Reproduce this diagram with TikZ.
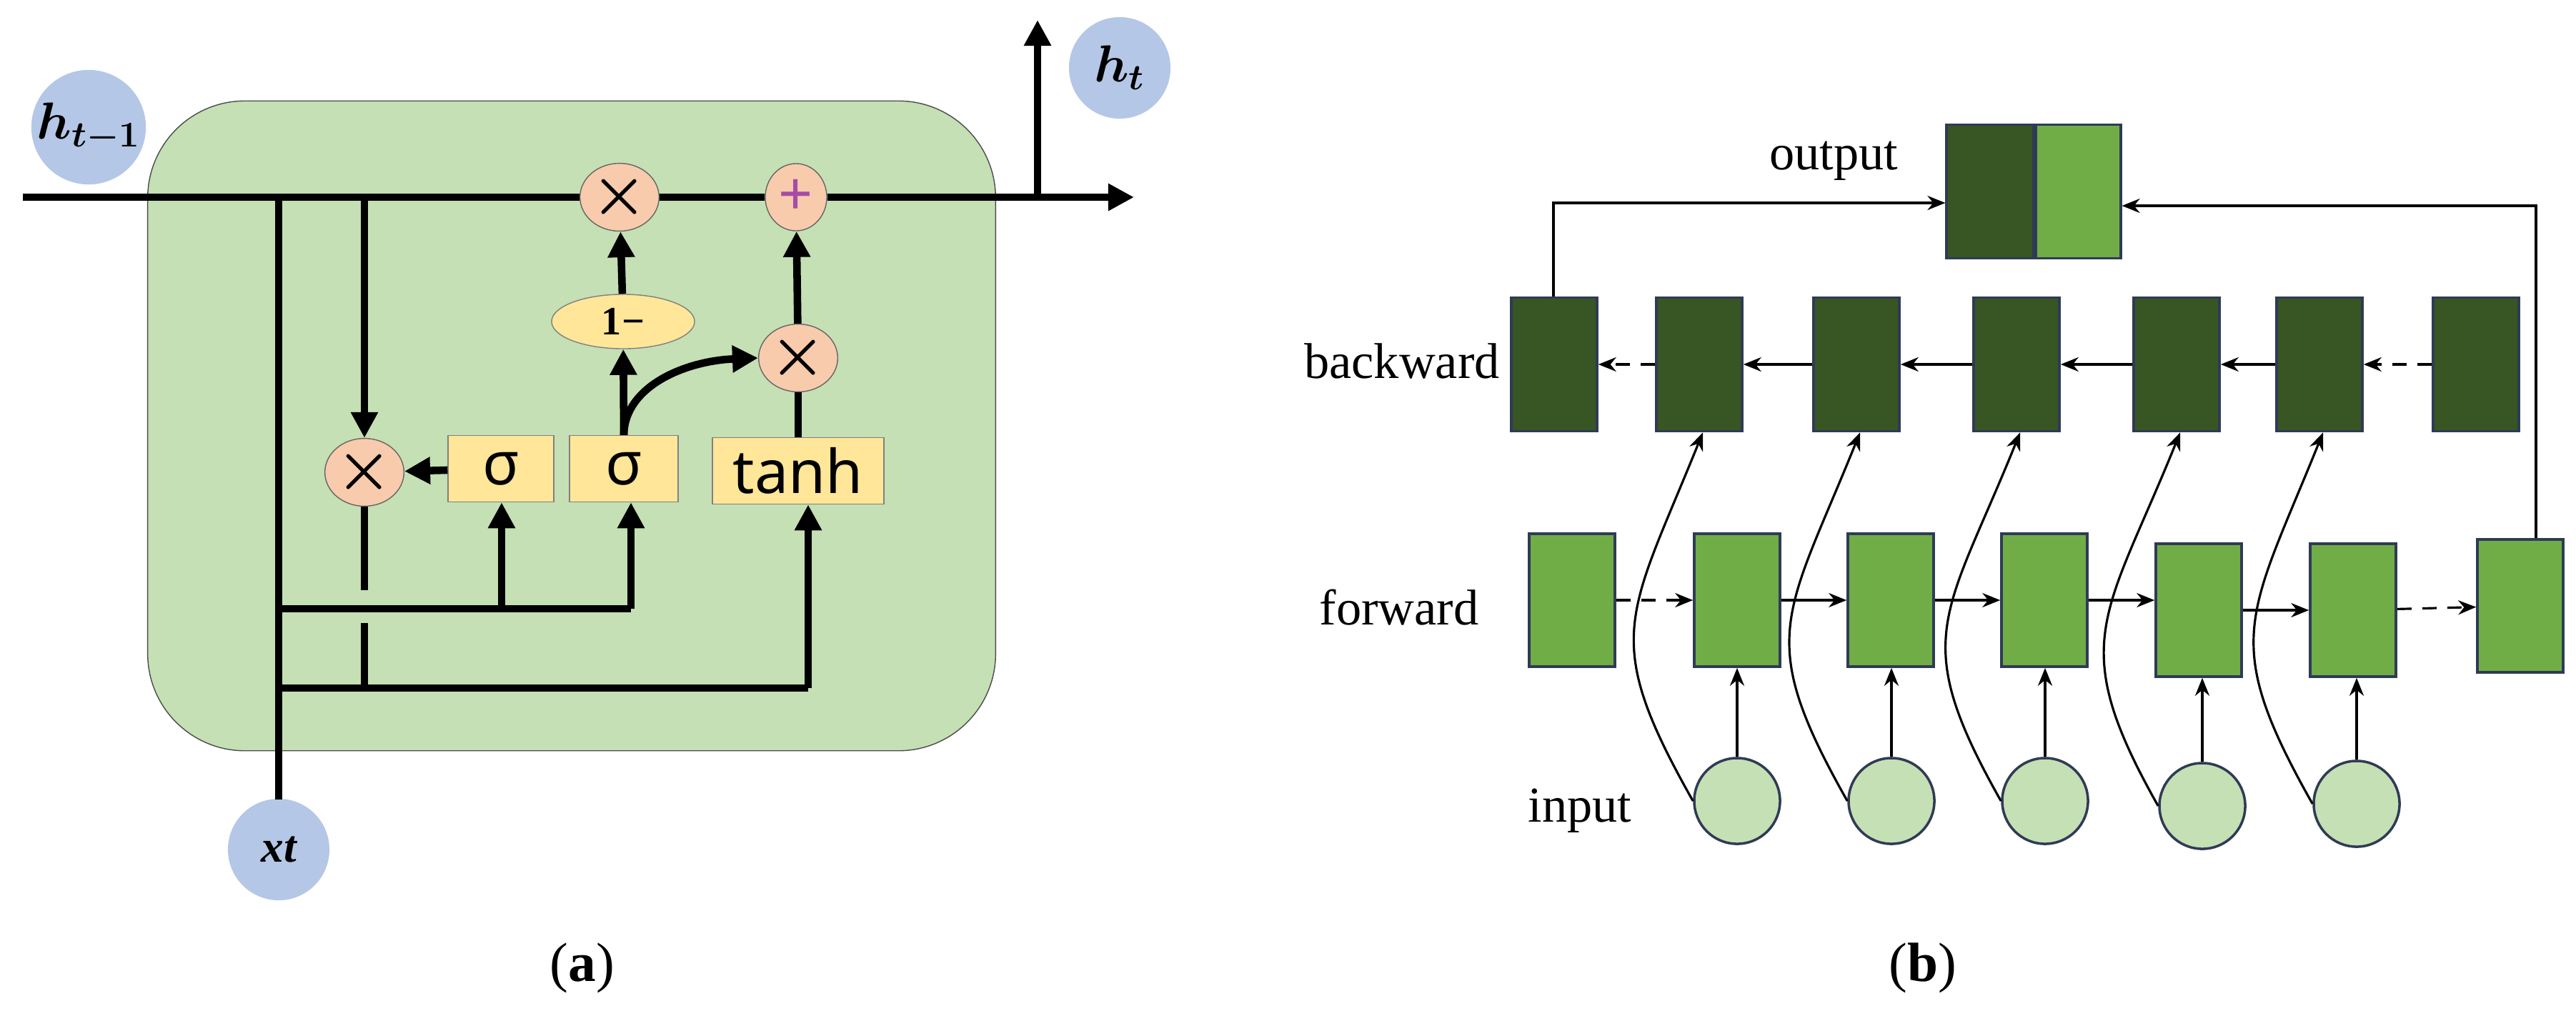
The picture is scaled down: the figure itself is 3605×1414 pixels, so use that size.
\documentclass[tikz,border=0pt]{standalone}
\usepackage{amsmath,amssymb}
\usepackage{bm}
\usepackage{fontspec}
\setmainfont{Liberation Serif}
\newfontfamily\sansf{Noto Sans}
\usetikzlibrary{arrows.meta,shapes.geometric}
\definecolor{cellg}{HTML}{C5E0B4}
\definecolor{dkg}{HTML}{375623}
\definecolor{ltg}{HTML}{70AD47}
\definecolor{bluec}{HTML}{B4C7E7}
\definecolor{salm}{HTML}{F8CBAD}
\definecolor{yel}{HTML}{FFE699}
\definecolor{navy}{HTML}{2F3B55}
\begin{document}
\begin{tikzpicture}[x=0.01cm,y=-0.01cm,
  thk/.style={line width=3pt},
  tip/.style={-{Triangle[length=0.36cm,width=0.36cm]}},
  vc/.style={circle,fill=bluec,minimum size=1.42cm,inner sep=0},
  op/.style={ellipse,draw=black!60,fill=salm,minimum width=0.86cm,minimum height=0.94cm,inner sep=0,font=\sansf\bfseries\fontsize{24}{24}\selectfont},
  gate/.style={draw=black!50,fill=yel,minimum height=0.93cm,inner sep=0,font=\sansf\fontsize{24}{26}\selectfont},
  bw/.style={draw=navy,line width=1pt,fill=dkg,minimum width=1.2cm,minimum height=1.87cm},
  fw/.style={draw=navy,line width=1pt,fill=ltg,minimum width=1.2cm,minimum height=1.86cm},
  inp/.style={circle,draw=navy,line width=1pt,fill=cellg,minimum size=1.2cm},
  lab/.style={font=\fontsize{20}{24}\selectfont},
  ar/.style={line width=0.9pt,-{Stealth[length=0.25cm,width=0.2cm]}},
  da/.style={ar,dash pattern=on 0.2cm off 0.15cm}]
\useasboundingbox (0,0) rectangle (3605,1414);
% ---------- (a) ----------
\node[draw=black!70,fill=cellg,rounded corners=1.36cm,minimum width=11.86cm,minimum height=9.09cm] (cell) at (800,596) {};
\node[vc] (hprev) at (124,178) {\fontsize{20}{20}\selectfont$\bm{h_{t-1}}$};
\node[vc] (hnext) at (1567,95) {\fontsize{20}{20}\selectfont$\bm{h_t}$};
\node[vc] (xt) at (390,1189) {\fontsize{18}{18}\selectfont\itshape\bfseries xt};
\coordinate (L) at (32,276);
\coordinate (R) at (1587,276);
\coordinate (Up) at (1452,276);
\coordinate (UpT) at (1452,28);
\node[op] (mf) at (510,661) {$\bm\times$};
\node[op] (mt) at (867,276) {$\bm\times$};
\node[op,text=violet!70] (pl) at (1114,276) {+};
\node[op] (mm) at (1117,501) {$\bm\times$};
\node[ellipse,draw=black!50,fill=yel,minimum width=2cm,minimum height=0.76cm,inner sep=0,font=\fontsize{16}{16}\selectfont\bfseries] (om) at (872,450) {1−};
\node[gate,minimum width=1.48cm] (s1) at (701,656) {σ};
\node[gate,minimum width=1.52cm] (s2) at (873,656) {σ};
\node[gate,minimum width=2.4cm] (th) at (1117,659) {tanh};
\draw[thk,tip] (L) -- (mt) -- (pl) -- (R);
\draw[thk,tip] (Up) -- (UpT);
\coordinate (xa) at (390,276);
\coordinate (xb) at (390,1119);
\draw[thk] (xa) -- (xb);
\draw[thk] (xb) -- (xt);
\coordinate (fa) at (510,276);
\draw[thk,tip] (fa) -- (mf);
\coordinate (fb) at (510,826); \coordinate (fc) at (510,872); \coordinate (fd) at (510,963);
\draw[thk] (mf) -- (fb);
\draw[thk] (fc) -- (fd);
\coordinate (h1a) at (390,852); \coordinate (h1b) at (883,852); \coordinate (h1m) at (702,852);
\coordinate (h2a) at (390,963); \coordinate (h2b) at (1131,963);
\draw[thk] (h1a) -- (h1b);
\draw[thk] (h2a) -- (h2b);
\draw[thk,tip] (h1m) -- (h1m|-s1.south);
\draw[thk,tip] (h1b) -- (h1b|-s2.south);
\draw[thk,tip] (h2b) -- (h2b|-th.south);
\draw[thk,tip] (s1) -- (mf);
\draw[thk,tip] (s2.north) -- (om);
\draw[thk,tip] (om) -- (mt);
\draw[thk,tip] (s2.north) .. controls (874,540) and (960,505) .. (mm.west);
\draw[thk] (th) -- (mm);
\draw[thk,tip] (mm) -- (pl);
\node[font=\fontsize{22}{26}\selectfont] (la) at (815,1355) {(\textbf{a})};
% ---------- (b) ----------
\node[draw=navy,line width=1pt,fill=dkg,minimum width=1.21cm,minimum height=1.87cm,anchor=east] (outL) at (2847,268) {};
\node[draw=navy,line width=1pt,fill=ltg,minimum width=1.19cm,minimum height=1.87cm,anchor=west] (outR) at (2847,268) {};
\node[lab] (tout) at (2566,225) {output};
\node[lab] (tbw) at (1962,505) {backward};
\node[lab] (tfw) at (1958,850) {forward};
\node[lab] (tin) at (2211,1135) {input};
\foreach \i/\x in {1/2175,2/2378,3/2598,4/2822,5/3046,6/3246,7/3465}
  \node[bw] (b\i) at (\x,510) {};
\foreach \i/\x/\y in {1/2200/840,2/2431/840,3/2646/840,4/2861/840,5/3077/854,6/3293/854,7/3527/848}
  \node[fw] (f\i) at (\x,\y) {};
\foreach \i/\x/\y in {2/2431/1121,3/2647/1121,4/2862/1121,5/3082/1128,6/3298/1125}
  \node[inp] (c\i) at (\x,\y) {};
% connectors
\draw[da] (b2) -- (b1);
\draw[ar] (b3) -- (b2);
\draw[ar] (b4) -- (b3);
\draw[ar] (b5) -- (b4);
\draw[ar] (b6) -- (b5);
\draw[da] (b7) -- (b6);
\draw[da] (f1) -- (f2);
\draw[ar] (f2) -- (f3);
\draw[ar] (f3) -- (f4);
\draw[ar] (f4.east) -- (f5.west|-f4.east);
\draw[ar] (f5) -- (f6);
\draw[da] (f6) -- (f7);
\foreach \i in {2,...,6} {
  \draw[ar] (c\i) -- (c\i|-f\i.south);
  \draw[ar] (c\i.west) .. controls ([xshift=-1.3cm,yshift=2.3cm]c\i.west) and ([xshift=-1.0cm,yshift=-2.6cm]b\i.south) .. ([xshift=0.05cm]b\i.south);
}
\coordinate (lk) at (2174,284);
\draw[ar] (b1.north-|lk) -- (lk) -- (outL.west|-lk);
\coordinate (rk) at (3549,288);
\draw[ar] (f7.north-|rk) -- (rk) -- (outR.east|-rk);
\node[font=\fontsize{22}{26}\selectfont] (lb) at (2691,1355) {(\textbf{b})};
\end{tikzpicture}
\end{document}
